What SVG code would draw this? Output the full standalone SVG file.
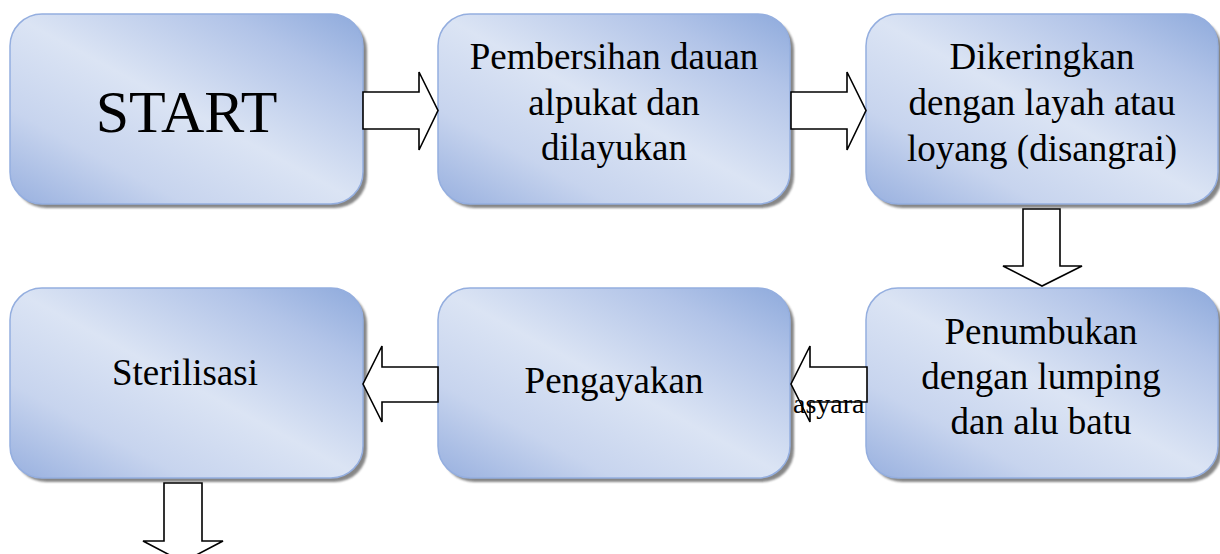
<svg xmlns="http://www.w3.org/2000/svg" width="1220" height="554" viewBox="0 0 1220 554">
  <defs>
    <linearGradient id="g" x1="1" y1="0" x2="0" y2="1">
      <stop offset="0" stop-color="#8eaadc"/>
      <stop offset="0.2" stop-color="#b2c4e8"/>
      <stop offset="0.5" stop-color="#dbe4f4"/>
      <stop offset="0.75" stop-color="#c7d4ee"/>
      <stop offset="1" stop-color="#98b0df"/>
    </linearGradient>
    <filter id="blur" x="-5%" y="-5%" width="110%" height="110%">
      <feGaussianBlur stdDeviation="1.2"/>
    </filter>
  </defs>
  <style>
    .box { fill: url(#g); stroke: #94aedf; stroke-width: 1.5; }
    .shadow { fill: #7a7a7a; opacity: 0.9; filter: url(#blur); }
    .arrow { fill: #ffffff; stroke: #000000; stroke-width: 1.6; stroke-linejoin: miter; }
    .t { font-family: "Liberation Serif", "Times New Roman", serif; font-size: 37px; fill: #000000; text-anchor: middle; }
    .big { font-size: 60px; }
    .stray { font-family: "Liberation Serif", "Times New Roman", serif; font-size: 28px; fill: #000000; }
  </style>
  <rect width="1220" height="554" fill="#ffffff"/>

  <g id="start">
    <rect class="shadow" x="14" y="18" width="353" height="190" rx="32"/>
    <rect class="box" x="10" y="14" width="353" height="190" rx="32"/>
    <text class="t big" x="186.5" y="132">START</text>
  </g>
  <g id="pembersihan">
    <rect class="shadow" x="442" y="18" width="352" height="190" rx="32"/>
    <rect class="box" x="438" y="14" width="352" height="190" rx="32"/>
    <text class="t" x="614" y="69">Pembersihan dauan</text>
    <text class="t" x="614" y="115">alpukat dan</text>
    <text class="t" x="614" y="160">dilayukan</text>
  </g>
  <g id="dikeringkan">
    <rect class="shadow" x="870" y="18" width="352" height="190" rx="32"/>
    <rect class="box" x="866" y="14" width="352" height="190" rx="32"/>
    <text class="t" x="1042" y="69">Dikeringkan</text>
    <text class="t" x="1042" y="115">dengan layah atau</text>
    <text class="t" x="1042" y="161">loyang (disangrai)</text>
  </g>
  <g id="sterilisasi">
    <rect class="shadow" x="14" y="292" width="353" height="190" rx="32"/>
    <rect class="box" x="10" y="288" width="353" height="190" rx="32"/>
    <text class="t" x="185" y="385">Sterilisasi</text>
  </g>
  <g id="pengayakan">
    <rect class="shadow" x="442" y="292" width="352" height="190" rx="32"/>
    <rect class="box" x="438" y="288" width="352" height="190" rx="32"/>
    <text class="t" x="614" y="393">Pengayakan</text>
  </g>
  <g id="penumbukan">
    <rect class="shadow" x="870" y="292" width="352" height="190" rx="32"/>
    <rect class="box" x="866" y="288" width="352" height="190" rx="32"/>
    <text class="t" x="1041" y="344">Penumbukan</text>
    <text class="t" x="1041" y="389">dengan lumping</text>
    <text class="t" x="1041" y="434">dan alu batu</text>
  </g>

  <g id="connectors">
    <polygon class="arrow" points="363,92 419,92 419,72 438,110.5 419,150 419,129 363,129"/>
    <polygon class="arrow" points="791,92 847,92 847,72 866,110.5 847,150 847,129 791,129"/>
    <polygon class="arrow" points="1023,209 1060,209 1060,266 1082,266 1042,286 1003,266 1023,266"/>
    <polygon class="arrow" points="867,367 810,367 810,346 791,384 810,422 810,402 867,402"/>
    <polygon class="arrow" points="438,367 382,367 382,346 363,384 382,422 382,402 438,402"/>
    <polygon class="arrow" points="164,483 202,483 202,541 223,541 183,562 143,541 164,541"/>
  </g>

  <text class="stray" x="793" y="413">asyara</text>
</svg>
